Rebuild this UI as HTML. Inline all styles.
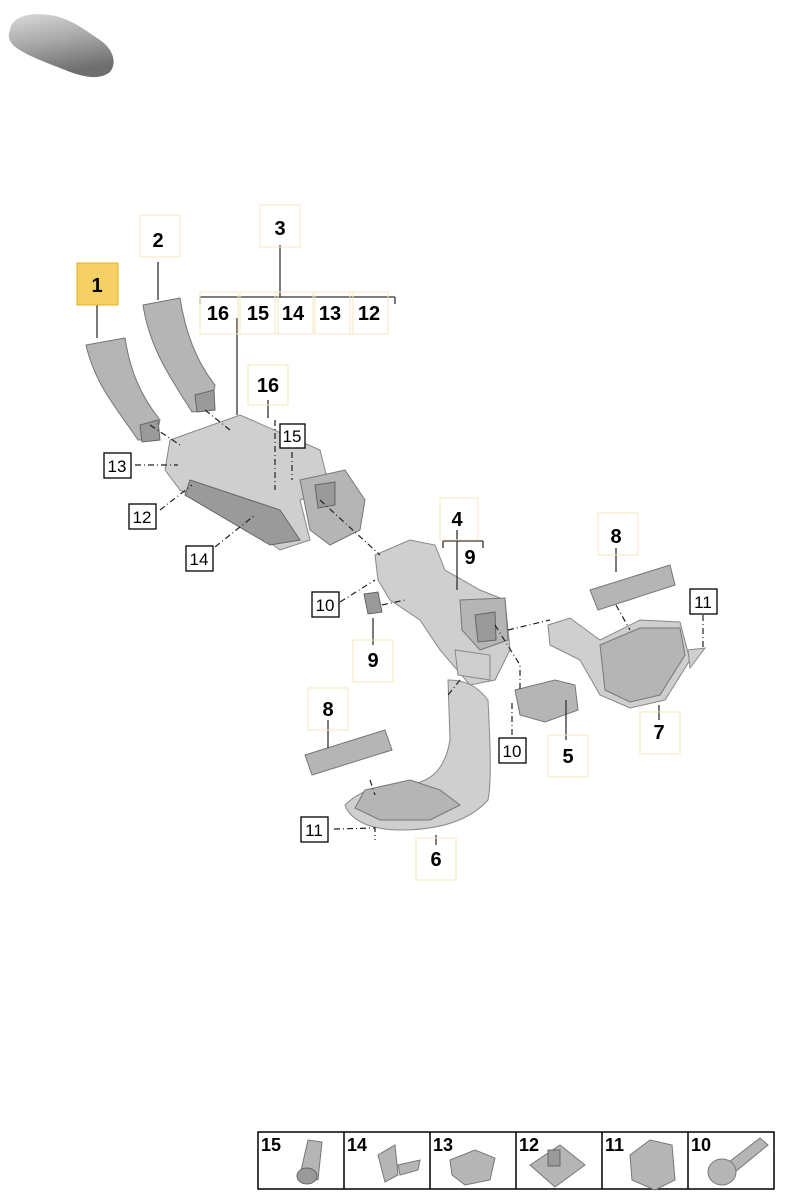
<!DOCTYPE html>
<html><head><meta charset="utf-8"><style>
html,body{margin:0;padding:0;background:#fff;}
svg{display:block;font-family:"Liberation Sans",sans-serif;}
.b{font-weight:bold;font-size:20px;text-anchor:middle;fill:#000}
.n{font-size:17px;text-anchor:middle;fill:#000}
.fb{fill:none;stroke:#f3e7c0;stroke-width:1}
.bx{fill:#fff;stroke:#000;stroke-width:1.3}
.ln{stroke:#333;stroke-width:1.3;fill:none}
.dl{stroke:#222;stroke-width:1.2;fill:none;stroke-dasharray:6 3 1 3}
.p{fill:#b5b5b5;stroke:#777;stroke-width:1}
.pd{fill:#9a9a9a;stroke:#666;stroke-width:1}
.pl{fill:#cfcfcf;stroke:#888;stroke-width:1}
</style></head><body>
<svg width="791" height="1200" viewBox="0 0 791 1200">
<defs><linearGradient id="car" x1="0" y1="0" x2="0.3" y2="1"><stop offset="0" stop-color="#dadada"/><stop offset="0.5" stop-color="#a8a8a8"/><stop offset="1" stop-color="#6e6e6e"/></linearGradient></defs>
<!-- car -->
<path d="M10,30 C12,16 30,12 50,15 C70,18 85,30 100,40 C112,48 118,62 110,72 C100,80 85,78 65,70 C45,62 25,55 14,46 C8,40 8,35 10,30Z" fill="url(#car)"/>

<!-- part 1 -->
<path class="p" d="M86,345 L125,338 C130,370 140,395 160,420 L155,440 L138,440 C118,410 95,385 86,345Z"/>
<path class="pd" d="M140,425 L158,420 L160,440 L142,442Z"/>
<!-- part 2 -->
<path class="p" d="M143,305 L180,298 C185,330 195,360 215,385 L210,410 L192,412 C172,380 150,350 143,305Z"/>
<path class="pd" d="M195,395 L214,390 L215,410 L197,412Z"/>
<!-- frame 3 -->
<path class="pl" d="M170,440 L240,415 L320,450 L330,490 L300,500 L310,540 L280,550 L240,520 L180,490 L165,470Z"/>
<path class="p" d="M300,480 L345,470 L365,500 L360,530 L330,545 L310,530Z"/>
<path class="pd" d="M190,480 L280,510 L300,540 L270,545 L185,495Z"/>
<path class="pd" d="M315,485 L335,482 L335,505 L318,508Z"/>
<!-- part 4 -->
<path class="pl" d="M375,555 L410,540 L435,545 L445,570 L480,590 L505,600 L510,650 L495,680 L470,685 L440,650 L420,620 L390,600 L378,580Z"/>
<path class="p" d="M460,600 L505,598 L508,640 L480,650 L462,630Z"/>
<path class="pd" d="M475,615 L495,612 L496,640 L478,642Z"/>
<path class="pl" d="M455,650 L490,655 L490,680 L458,675Z"/>
<!-- 9 small -->
<path class="pd" d="M364,594 L378,592 L382,612 L368,614Z"/>
<!-- 7 -->
<path class="pl" d="M548,625 L570,618 L600,640 L640,620 L680,622 L690,660 L665,700 L630,708 L600,695 L580,660 L550,645Z"/>
<path class="p" d="M600,645 L640,628 L680,628 L685,655 L660,695 L630,702 L605,690Z"/>
<path class="pl" d="M688,650 L705,648 L690,668Z"/>
<!-- 8 right -->
<path class="p" d="M590,590 L670,565 L675,585 L598,610Z"/>
<!-- 5 -->
<path class="p" d="M515,690 L555,680 L575,685 L578,710 L545,722 L520,715Z"/>
<!-- 6 -->
<path class="pl" d="M448,680 C470,680 480,690 488,700 C490,740 492,780 488,800 C470,820 440,830 400,830 C370,830 350,820 345,805 C360,790 380,785 400,785 C430,785 445,770 450,740Z"/>
<path class="p" d="M365,790 L410,780 L440,790 L460,805 L430,820 L380,820 L355,808Z"/>
<!-- 8 left -->
<path class="p" d="M305,755 L385,730 L392,750 L312,775Z"/>

<!-- dashed leaders -->
<path class="dl" d="M150,425 L180,445 M205,410 L230,430 M135,465 L178,465 M160,510 L192,485 M205,555 L255,515 M275,420 L275,490 M292,452 L292,480 M320,500 L380,555 M340,602 L375,580 M382,605 L405,600 M460,680 L448,695 M495,625 L520,665 L520,690 M508,630 L550,620 M512,735 L512,700 M370,780 L375,795 M616,605 L630,630 M703,615 L703,648 M334,829 L375,828 L375,840"/>

<!-- solid leaders -->
<path class="ln" d="M97,305 L97,338 M158,262 L158,300 M280,245 L280,297 M200,297 L395,297 M200,297 L200,304 M395,297 L395,304 M237,318 L237,415 M268,400 L268,418 M457,530 L457,590 M443,541 L483,541 M443,541 L443,548 M483,541 L483,548 M373,618 L373,645 M616,548 L616,572 M328,720 L328,748 M659,705 L659,720 M566,700 L566,740 M436,835 L436,845"/>

<!-- faint label boxes -->
<rect class="fb" x="140" y="215" width="40" height="42"/>
<rect class="fb" x="260" y="205" width="40" height="42"/>
<rect class="fb" x="200" y="292" width="38" height="42"/>
<rect class="fb" x="240" y="292" width="38" height="42"/>
<rect class="fb" x="275" y="292" width="38" height="42"/>
<rect class="fb" x="315" y="292" width="38" height="42"/>
<rect class="fb" x="350" y="292" width="38" height="42"/>
<rect class="fb" x="248" y="365" width="40" height="40"/>
<rect class="fb" x="440" y="498" width="38" height="42"/>
<rect class="fb" x="598" y="513" width="40" height="42"/>
<rect class="fb" x="308" y="688" width="40" height="42"/>
<rect class="fb" x="353" y="640" width="40" height="42"/>
<rect class="fb" x="640" y="712" width="40" height="42"/>
<rect class="fb" x="548" y="735" width="40" height="42"/>
<rect class="fb" x="416" y="838" width="40" height="42"/>

<!-- yellow 1 -->
<rect x="77" y="263" width="41" height="42" fill="#f5d165" stroke="#e0b020"/>
<text class="b" x="97" y="292">1</text>
<text class="b" x="158" y="247">2</text>
<text class="b" x="280" y="235">3</text>
<text class="b" x="218" y="320">16</text>
<text class="b" x="258" y="320">15</text>
<text class="b" x="293" y="320">14</text>
<text class="b" x="330" y="320">13</text>
<text class="b" x="369" y="320">12</text>
<text class="b" x="268" y="392">16</text>
<text class="b" x="457" y="526">4</text>
<text class="b" x="470" y="564">9</text>
<text class="b" x="373" y="667">9</text>
<text class="b" x="616" y="543">8</text>
<text class="b" x="328" y="716">8</text>
<text class="b" x="659" y="739">7</text>
<text class="b" x="568" y="763">5</text>
<text class="b" x="436" y="866">6</text>

<!-- boxed -->
<rect class="bx" x="280" y="424" width="25" height="24"/><text class="n" x="292" y="442">15</text>
<rect class="bx" x="104" y="453" width="27" height="25"/><text class="n" x="117" y="472">13</text>
<rect class="bx" x="129" y="504" width="27" height="25"/><text class="n" x="142" y="523">12</text>
<rect class="bx" x="186" y="546" width="27" height="25"/><text class="n" x="199" y="565">14</text>
<rect class="bx" x="312" y="592" width="27" height="25"/><text class="n" x="325" y="611">10</text>
<rect class="bx" x="690" y="589" width="27" height="25"/><text class="n" x="703" y="608">11</text>
<rect class="bx" x="499" y="738" width="27" height="25"/><text class="n" x="512" y="757">10</text>
<rect class="bx" x="301" y="817" width="27" height="25"/><text class="n" x="314" y="836">11</text>

<!-- bottom table -->
<rect x="258" y="1132" width="516" height="57" fill="none" stroke="#000" stroke-width="1.5"/>
<path d="M344,1132V1189M430,1132V1189M516,1132V1189M602,1132V1189M688,1132V1189" stroke="#000" stroke-width="1.5"/>
<g font-weight="bold" font-size="18px">
<text x="261" y="1151">15</text><text x="347" y="1151">14</text><text x="433" y="1151">13</text>
<text x="519" y="1151">12</text><text x="605" y="1151">11</text><text x="691" y="1151">10</text></g>
<!-- hardware -->
<path class="p" d="M300,1175 L308,1140 L322,1142 L318,1180 Z"/><ellipse class="pd" cx="307" cy="1176" rx="10" ry="8"/>
<path class="p" d="M378,1155 L395,1145 L398,1175 L385,1182 Z M398,1165 L420,1160 L418,1170 L400,1175Z"/>
<path class="p" d="M450,1160 L475,1150 L495,1158 L490,1180 L465,1185 L452,1175Z"/>
<path class="p" d="M530,1165 L560,1145 L585,1165 L555,1187Z"/><rect class="pd" x="548" y="1150" width="12" height="16"/>
<path class="p" d="M630,1155 L650,1140 L672,1145 L675,1180 L655,1190 L632,1180Z"/>
<path class="p" d="M725,1165 L760,1138 L768,1145 L735,1172Z"/><ellipse class="p" cx="722" cy="1172" rx="14" ry="13"/>
</svg>
</body></html>
